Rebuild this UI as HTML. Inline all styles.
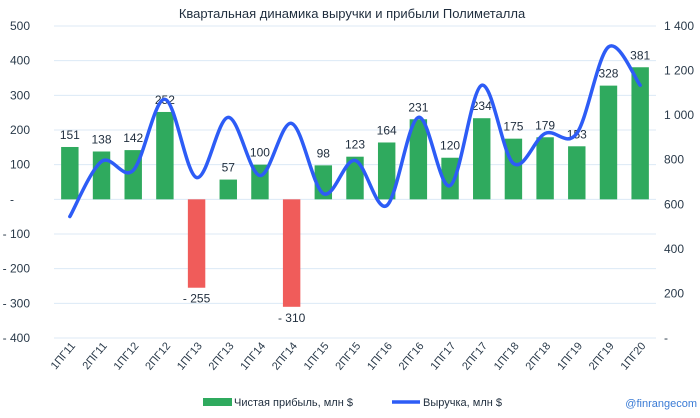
<!DOCTYPE html>
<html><head><meta charset="utf-8"><style>
body{margin:0;background:#fff}
svg{font-family:"Liberation Sans",sans-serif;display:block}
</style></head><body>
<svg id="c" width="700" height="418"></svg>
<script>
const categories=["1ПГ11","2ПГ11","1ПГ12","2ПГ12","1ПГ13","2ПГ13","1ПГ14","2ПГ14","1ПГ15","2ПГ15","1ПГ16","2ПГ16","1ПГ17","2ПГ17","1ПГ18","2ПГ18","1ПГ19","2ПГ19","1ПГ20"];
const profit=[151,138,142,252,-255,57,100,-310,98,123,164,231,120,234,175,179,153,328,381];
const revenue=[545,792,752,1071,720,990,729,963,648,797,594,990,684,1134,783,918,918,1306,1134];
const leftTicks=[500,400,300,200,100,0,-100,-200,-300,-400];
const rightTicks=[1400,1200,1000,800,600,400,200,0];
const NS="http://www.w3.org/2000/svg";
const svg=document.getElementById('c');
const X0=54,X1=656,yTop=26,yBot=338;
const bw=(X1-X0)/categories.length;
const yL=v=>yTop+(500-v)/900*(yBot-yTop);
const yR=v=>yTop+(1400-v)/1400*(yBot-yTop);
const xC=i=>X0+bw*(i+0.5);
function el(t,a,txt){const e=document.createElementNS(NS,t);for(const k in a)e.setAttribute(k,a[k]);if(txt!==undefined)e.textContent=txt;svg.appendChild(e);return e;}
const fmt=v=>v===0?"-":(v<0?"- "+Math.abs(v):String(v));
const fmtR=v=>v===0?"-":(v>=1000?Math.floor(v/1000)+" "+String(v%1000).padStart(3,"0"):String(v));
let t=el('text',{x:352,y:18,'text-anchor':'middle','font-size':13,fill:'#1f2d3d'},"Квартальная динамика выручки и прибыли Полиметалла");

leftTicks.forEach(v=>{
  let g=el('line',{x1:X0,x2:X1,y1:yL(v),y2:yL(v),stroke:'#dce9f6','stroke-width':1});
  
  let l=el('text',{x:v===0?10:30,y:yL(v)+4,'text-anchor':v===0?'start':'end','font-size':12,fill:'#2a3a4a'},fmt(v));
  
});
rightTicks.forEach(v=>{
  let l=el('text',{x:664,y:yR(v)+4,'font-size':12,fill:'#2a3a4a'},fmtR(v));
  
});
profit.forEach((v,i)=>{
  const w=bw*0.55,y0=yL(0),y=yL(v);
  let r=el('rect',{x:xC(i)-w/2,y:Math.min(y0,y),width:w,height:Math.abs(y-y0),fill:v<0?'#f05c5a':'#2faa5e'});
  
  let l=el('text',{x:xC(i),y:v<0?y+15:y-8,'text-anchor':'middle','font-size':12,fill:'#1f2d3d'},fmt(v));
  
});
const pts=revenue.map((v,i)=>[xC(i),yR(v)]);
let d="M"+pts[0].join(",");
for(let i=0;i<pts.length-1;i++){
  const p0=pts[Math.max(0,i-1)],p1=pts[i],p2=pts[i+1],p3=pts[Math.min(pts.length-1,i+2)];
  const c1=[p1[0]+(p2[0]-p0[0])/6,p1[1]+(p2[1]-p0[1])/6],c2=[p2[0]-(p3[0]-p1[0])/6,p2[1]-(p3[1]-p1[1])/6];
  d+=" C"+c1.join(",")+" "+c2.join(",")+" "+p2.join(",");
}
let ln=el('path',{d:d,fill:'none',stroke:'#2d5cf6','stroke-width':3.5,'stroke-linecap':'round'});

categories.forEach((c,i)=>{
  const ax=xC(i)+6, ay=346;
  let l=el('text',{x:ax,y:ay,'text-anchor':'end','font-size':11,fill:'#2a3a4a',transform:`rotate(-50 ${ax} ${ay})`},c);
  
});
let lg1=el('rect',{x:203,y:398,width:29,height:8,fill:'#2faa5e'});

let lt1=el('text',{x:234,y:406,'font-size':11,fill:'#1f2d3d'},"Чистая прибыль, млн $");

let lg2=el('line',{x1:392,x2:420,y1:402,y2:402,stroke:'#2d5cf6','stroke-width':3.5});

let lt2=el('text',{x:423,y:406,'font-size':11,fill:'#1f2d3d'},"Выручка, млн $");

let wm=el('text',{x:697,y:407,'text-anchor':'end','font-size':11,fill:'#3a7bd5'},"@finrangecom");

</script>
</body></html>
